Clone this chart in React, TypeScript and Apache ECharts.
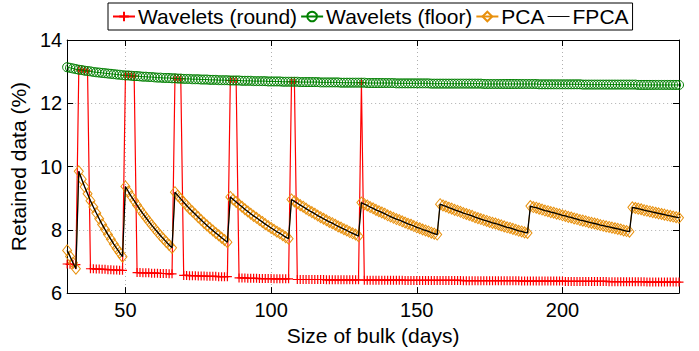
import React, { useEffect, useRef } from "react";
import * as echarts from "echarts";

const days = [
  30, 31, 32, 33, 34, 35, 36, 37, 38, 39, 40, 41, 42, 43, 44, 45, 46, 47, 48, 49,
  50, 51, 52, 53, 54, 55, 56, 57, 58, 59, 60, 61, 62, 63, 64, 65, 66, 67, 68, 69,
  70, 71, 72, 73, 74, 75, 76, 77, 78, 79, 80, 81, 82, 83, 84, 85, 86, 87, 88, 89,
  90, 91, 92, 93, 94, 95, 96, 97, 98, 99, 100, 101, 102, 103, 104, 105, 106, 107, 108, 109,
  110, 111, 112, 113, 114, 115, 116, 117, 118, 119, 120, 121, 122, 123, 124, 125, 126, 127, 128, 129,
  130, 131, 132, 133, 134, 135, 136, 137, 138, 139, 140, 141, 142, 143, 144, 145, 146, 147, 148, 149,
  150, 151, 152, 153, 154, 155, 156, 157, 158, 159, 160, 161, 162, 163, 164, 165, 166, 167, 168, 169,
  170, 171, 172, 173, 174, 175, 176, 177, 178, 179, 180, 181, 182, 183, 184, 185, 186, 187, 188, 189,
  190, 191, 192, 193, 194, 195, 196, 197, 198, 199, 200, 201, 202, 203, 204, 205, 206, 207, 208, 209,
  210, 211, 212, 213, 214, 215, 216, 217, 218, 219, 220, 221, 222, 223, 224, 225, 226, 227, 228, 229,
  230, 231, 232, 233, 234, 235, 236, 237, 238, 239, 240,
];

const waveletsRound = [
  6.92, 6.91, 6.91, 6.90,
  13.06, 13.05, 13.03, 13.02,
  6.77, 6.77, 6.76, 6.76, 6.75, 6.75, 6.74, 6.74, 6.73, 6.73, 6.72, 6.72,
  12.88, 12.88, 12.87, 12.86,
  6.65, 6.65, 6.64, 6.64, 6.64, 6.63, 6.63, 6.63, 6.62, 6.62, 6.62, 6.61, 6.61,
  12.79, 12.78, 12.78,
  6.56, 6.56, 6.55, 6.55, 6.55, 6.54, 6.54, 6.54, 6.53, 6.53, 6.53, 6.53, 6.52, 6.52, 6.52, 6.52,
  12.72, 12.72, 12.72,
  6.48, 6.48, 6.48, 6.47, 6.47, 6.47, 6.47, 6.46, 6.46, 6.46, 6.46, 6.46, 6.45, 6.45, 6.45, 6.45, 6.45, 6.45,
  12.68, 12.68,
  6.43, 6.43, 6.43, 6.43, 6.43, 6.43, 6.43, 6.43, 6.43, 6.43,
  6.42, 6.42, 6.42, 6.42, 6.42, 6.42, 6.42, 6.42, 6.42, 6.42, 6.42, 6.42,
  12.65,
  6.41, 6.41, 6.41, 6.41, 6.41, 6.41, 6.41, 6.41, 6.41, 6.41, 6.41, 6.41, 6.41, 6.41,
  6.40, 6.40, 6.40, 6.40, 6.40, 6.40, 6.40, 6.40, 6.40, 6.40, 6.40, 6.40, 6.40, 6.40, 6.40, 6.40, 6.40, 6.40, 6.40, 6.40,
  6.39, 6.39, 6.39, 6.39, 6.39, 6.39, 6.39, 6.39, 6.39, 6.39, 6.39, 6.39, 6.39, 6.39, 6.39, 6.39, 6.39, 6.39, 6.39, 6.39,
  6.38, 6.38, 6.38, 6.38, 6.38, 6.38, 6.38, 6.38, 6.38, 6.38, 6.38, 6.38, 6.38, 6.38, 6.38,
  6.37, 6.37, 6.37, 6.37, 6.37, 6.37, 6.37, 6.37, 6.37, 6.37, 6.37, 6.37, 6.37, 6.37, 6.37,
  6.36, 6.36, 6.36, 6.36, 6.36, 6.36, 6.36, 6.36, 6.36, 6.36, 6.36, 6.36, 6.36,
  6.35, 6.35, 6.35, 6.35, 6.35, 6.35, 6.35, 6.35, 6.35, 6.35, 6.35, 6.35,
];

const waveletsFloor = [
  13.14, 13.12, 13.10, 13.08, 13.06, 13.05, 13.03, 13.02, 13.01, 12.99, 12.98, 12.97, 12.96, 12.95, 12.94, 12.93, 12.92, 12.91, 12.90, 12.89,
  12.88, 12.88, 12.87, 12.86, 12.86, 12.85, 12.84, 12.84, 12.83, 12.83, 12.82, 12.81, 12.81, 12.80, 12.80, 12.80, 12.79, 12.79, 12.78, 12.78,
  12.77, 12.77, 12.77, 12.76, 12.76, 12.76, 12.75, 12.75, 12.75, 12.74, 12.74, 12.74, 12.73, 12.73, 12.73, 12.73, 12.72, 12.72, 12.72, 12.72,
  12.71, 12.71, 12.71, 12.71, 12.70, 12.70, 12.70, 12.70, 12.70, 12.69, 12.69, 12.69, 12.69, 12.69, 12.68, 12.68, 12.68, 12.68, 12.68, 12.68,
  12.67, 12.67, 12.67, 12.67, 12.67, 12.67, 12.67, 12.66, 12.66, 12.66, 12.66, 12.66, 12.66, 12.66, 12.65, 12.65, 12.65, 12.65, 12.65, 12.65,
  12.65, 12.65, 12.65, 12.64, 12.64, 12.64, 12.64, 12.64, 12.64, 12.64, 12.64, 12.64, 12.64, 12.63, 12.63, 12.63, 12.63, 12.63, 12.63, 12.63,
  12.63, 12.63, 12.63, 12.63, 12.63, 12.62, 12.62, 12.62, 12.62, 12.62, 12.62, 12.62, 12.62, 12.62, 12.62, 12.62, 12.62, 12.62, 12.62, 12.62,
  12.62, 12.62, 12.62, 12.61, 12.61, 12.61, 12.61, 12.61, 12.61, 12.61, 12.61, 12.61, 12.61, 12.61, 12.61, 12.61, 12.61, 12.61, 12.61, 12.61,
  12.61, 12.61, 12.60, 12.60, 12.60, 12.60, 12.60, 12.60, 12.60, 12.60, 12.60, 12.60, 12.60, 12.60, 12.60, 12.60, 12.60, 12.59, 12.59, 12.59,
  12.59, 12.59, 12.59, 12.59, 12.59, 12.59, 12.59, 12.59, 12.59, 12.59, 12.59, 12.59, 12.59, 12.59, 12.59, 12.59, 12.58, 12.58, 12.58, 12.58,
  12.58, 12.58, 12.58, 12.58, 12.58, 12.58, 12.58, 12.58, 12.58, 12.58, 12.58,
];

const pcaValues = [
  7.35, 7.16, 6.96, 6.77,
  9.85, 9.60, 9.36, 9.14, 8.92, 8.72, 8.53, 8.35, 8.17, 8.01, 7.85, 7.70, 7.55, 7.41, 7.28, 7.15,
  9.37, 9.21, 9.06, 8.92, 8.78, 8.64, 8.51, 8.39, 8.27, 8.15, 8.04, 7.93, 7.82, 7.72, 7.62, 7.52, 7.43,
  9.19, 9.08, 8.98, 8.87, 8.77, 8.67, 8.58, 8.49, 8.40, 8.31, 8.22, 8.14, 8.06, 7.98, 7.90, 7.83, 7.75, 7.68, 7.61,
  9.04, 8.96, 8.88, 8.80, 8.73, 8.65, 8.58, 8.51, 8.44, 8.38, 8.31, 8.25, 8.18, 8.12, 8.06, 8.00, 7.94, 7.89, 7.83, 7.77, 7.72,
  8.96, 8.90, 8.84, 8.78, 8.73, 8.67, 8.61, 8.56, 8.51, 8.45, 8.40, 8.35, 8.30, 8.25, 8.21, 8.16, 8.11, 8.07, 8.02, 7.98, 7.93, 7.89, 7.85, 7.80,
  8.86, 8.81, 8.77, 8.72, 8.68, 8.63, 8.59, 8.55, 8.51, 8.46, 8.42, 8.38, 8.34, 8.31, 8.27, 8.23, 8.19, 8.16, 8.12, 8.08, 8.05, 8.01, 7.98, 7.95, 7.91, 7.88, 7.85,
  8.81, 8.77, 8.74, 8.70, 8.67, 8.63, 8.60, 8.57, 8.53, 8.50, 8.47, 8.44, 8.40, 8.37, 8.34, 8.31, 8.28, 8.25, 8.22, 8.20, 8.17, 8.14, 8.11, 8.08, 8.06, 8.03, 8.00, 7.97, 7.95, 7.92, 7.90,
  8.75, 8.72, 8.70, 8.67, 8.64, 8.61, 8.59, 8.56, 8.54, 8.51, 8.49, 8.46, 8.44, 8.41, 8.39, 8.36, 8.34, 8.31, 8.29, 8.27, 8.24, 8.22, 8.20, 8.18, 8.15, 8.13, 8.11, 8.09, 8.07, 8.05, 8.03, 8.01, 7.98, 7.96, 7.94,
  8.71, 8.69, 8.67, 8.65, 8.62, 8.60, 8.58, 8.56, 8.54, 8.52, 8.50, 8.48, 8.46, 8.44, 8.42, 8.40, 8.38,
];

const fpcaValues = [...pcaValues];

const xTickValues = [50, 100, 150, 200];
const seriesNames = ["Wavelets (round)", "Wavelets (floor)", "PCA", "FPCA"];

const FONT = "'Liberation Sans', Arial, Helvetica, sans-serif";
const RED = "#ff0000";
const GREEN = "#008000";
const ORANGE = "#e8900c";
const BLACK = "#000000";

const pairs = (vals: number[]) => days.map((d, i) => [d, vals[i]]);

export default function App() {
  const ref = useRef<HTMLDivElement>(null);

  useEffect(() => {
    if (!ref.current) return;
    const chart = echarts.init(ref.current, null, { renderer: "svg" });
    const axisLine = { show: true, lineStyle: { color: BLACK, width: 1 } };
    chart.setOption({
      animation: false,
      textStyle: { fontFamily: FONT },
      grid: { left: 66, right: 20, top: 40, bottom: 53, containLabel: false },
      legend: {
        left: 108,
        top: 3,
        orient: "horizontal",
        padding: [3, 4, 3, 4],
        itemGap: 3,
        itemWidth: 22,
        itemHeight: 12,
        borderColor: BLACK,
        borderWidth: 1,
        backgroundColor: "#fff",
        textStyle: { fontSize: 21, color: BLACK, fontFamily: FONT, padding: [0, 0, 0, -2] },
        data: [
          { name: seriesNames[0] },
          { name: seriesNames[1] },
          { name: seriesNames[2] },
          { name: seriesNames[3], icon: "path://M0,0L30,0L30,1.3L0,1.3Z" },
        ],
      },
      xAxis: [
        {
          type: "value",
          min: 30,
          max: 240,
          position: "bottom",
          axisLine,
          axisTick: { show: true, inside: true, length: 6, customValues: xTickValues, lineStyle: { color: BLACK } },
          axisLabel: { customValues: xTickValues, fontSize: 20, color: BLACK, margin: 7, fontFamily: FONT },
          splitLine: { show: true, lineStyle: { color: "#b0b0b0", type: [1, 3], width: 1 } },
          name: "Size of bulk (days)",
          nameLocation: "middle",
          nameGap: 26,
          nameTextStyle: { fontSize: 21, color: BLACK, fontFamily: FONT },
        },
        {
          type: "value",
          min: 30,
          max: 240,
          position: "top",
          axisLine,
          axisTick: { show: true, inside: true, length: 6, customValues: xTickValues, lineStyle: { color: BLACK } },
          axisLabel: { show: false },
          splitLine: { show: false },
        },
      ],
      yAxis: [
        {
          type: "value",
          min: 6,
          max: 14,
          interval: 2,
          position: "left",
          axisLine,
          axisTick: { show: true, inside: true, length: 6, lineStyle: { color: BLACK } },
          axisLabel: { fontSize: 20, color: BLACK, margin: 5, fontFamily: FONT },
          splitLine: { show: true, lineStyle: { color: "#b0b0b0", type: [1, 3], width: 1 } },
          name: "Retained data (%)",
          nameLocation: "middle",
          nameGap: 27,
          nameTextStyle: { fontSize: 21, color: BLACK, fontFamily: FONT },
        },
        {
          type: "value",
          min: 6,
          max: 14,
          interval: 2,
          position: "right",
          axisLine,
          axisTick: { show: true, inside: true, length: 6, lineStyle: { color: BLACK } },
          axisLabel: { show: false },
          splitLine: { show: false },
        },
      ],
      series: [
        {
          name: seriesNames[0],
          type: "line",
          data: pairs(waveletsRound),
          symbol: "path://M0,5L10,5M5,0L5,10",
          symbolSize: 9,
          showAllSymbol: true,
          itemStyle: { color: RED, borderColor: RED, borderWidth: 1.2 },
          lineStyle: { color: RED, width: 1.2 },
          z: 2,
        },
        {
          name: seriesNames[1],
          type: "line",
          data: pairs(waveletsFloor),
          symbol: "circle",
          symbolSize: 9,
          showAllSymbol: true,
          itemStyle: { color: "rgba(0,0,0,0)", borderColor: GREEN, borderWidth: 1 },
          lineStyle: { color: GREEN, width: 1 },
          z: 3,
        },
        {
          name: seriesNames[2],
          type: "line",
          data: pairs(pcaValues),
          symbol: "diamond",
          symbolSize: [9, 11],
          showAllSymbol: true,
          itemStyle: { color: "rgba(0,0,0,0)", borderColor: ORANGE, borderWidth: 1 },
          lineStyle: { color: ORANGE, width: 1 },
          z: 4,
        },
        {
          name: seriesNames[3],
          type: "line",
          data: pairs(fpcaValues),
          symbol: "none",
          itemStyle: { color: BLACK },
          lineStyle: { color: BLACK, width: 1.3 },
          z: 5,
        },
      ],
    });
    return () => chart.dispose();
  }, []);

  return (
    <div
      ref={ref}
      style={{ position: "fixed", left: 0, top: 0, width: 699, height: 351, background: "#fff" }}
    />
  );
}
